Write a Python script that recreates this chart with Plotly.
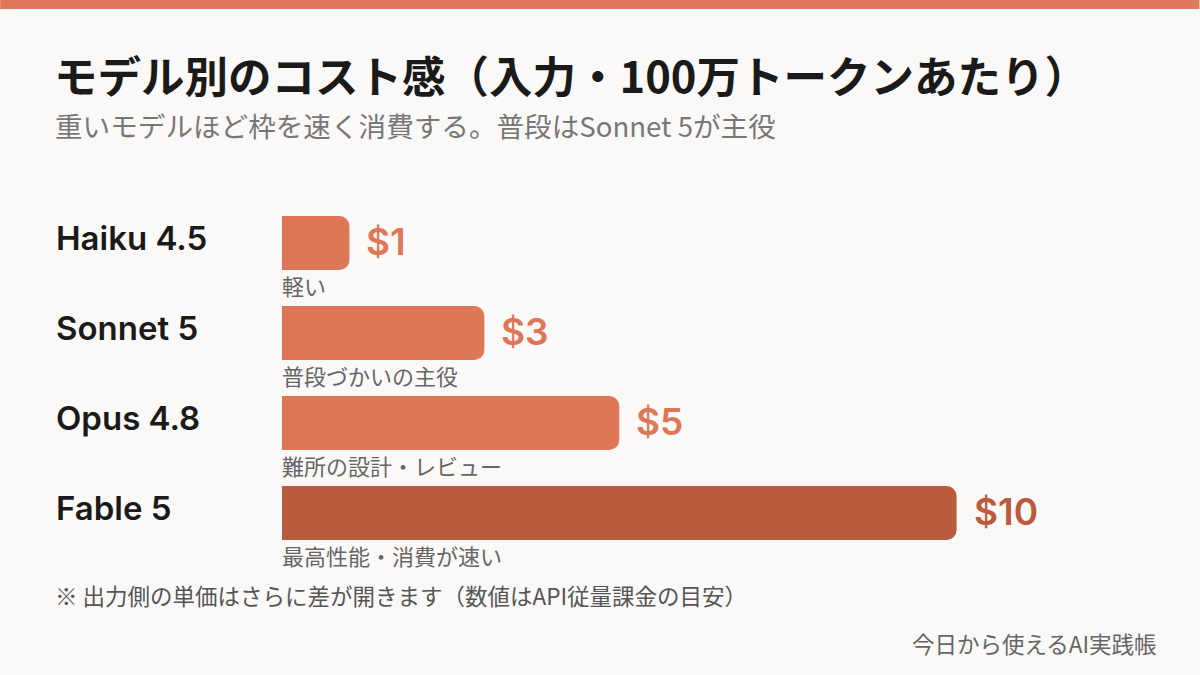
import plotly.graph_objects as go

# data
models = ['Haiku 4.5', 'Sonnet 5', 'Opus 4.8', 'Fable 5']
prices = [1, 3, 5, 10]
notes = ['軽い', '普段づかいの主役', '難所の設計・レビュー', '最高性能・消費が速い']
bar_colors = ['#DD7757', '#DD7757', '#DD7757', '#B95B3C']

title = 'モデル別のコスト感（入力・100万トークンあたり）'
subtitle = '重いモデルほど枠を速く消費する。普段はSonnet 5が主役'
footnote = '※ 出力側の単価はさらに差が開きます（数値はAPI従量課金の目安）'
credit = '今日から使えるAI実践帳'

FONT = 'Noto Sans CJK JP'
LATIN = 'Inter, Noto Sans CJK JP'

fig = go.Figure(go.Bar(
    x=prices, y=models, orientation='h',
    marker=dict(color=bar_colors, line=dict(width=0)),
    hoverinfo='skip',
))

W, H = 1200, 675
L, R, T, B = 282, 40.5, 198, 117
pw, ph = W - L - R, H - T - B

anns = []
for m, p, n, c in zip(models, prices, notes, bar_colors):
    # price label right of bar
    anns.append(dict(x=p, y=m, xref='x', yref='y', text=f'${p}',
                     xanchor='left', yanchor='middle', xshift=15, yshift=2, showarrow=False,
                     font=dict(family=LATIN, size=37, weight=600, color=c)))
    # model name on the left
    anns.append(dict(x=(54 - L) / pw, y=m, xref='paper', yref='y', text=m,
                     xanchor='left', yanchor='middle', yshift=5, showarrow=False,
                     font=dict(family=LATIN, size=33, weight=600, color='#1a1a1a')))
    # note under the bar
    anns.append(dict(x=0, y=m, xref='paper', yref='y', text=n,
                     xanchor='left', yanchor='middle', yshift=-42, xshift=-2, showarrow=False,
                     font=dict(family=FONT, size=22, color='#666666')))


def at(px, py, text, size, color, anchor='left'):
    # text placed by pixel position, converted to paper coordinates
    return dict(x=(px - L) / pw, y=1 - (py - T) / ph, xref='paper', yref='paper',
                text=text, xanchor=anchor, yanchor='middle', showarrow=False,
                font=dict(family=FONT, size=size, color=color))


anns += [
    at(52, 75, f'<b>{title}</b>', 43.5, '#1a1a1a'),
    at(53, 125, subtitle, 27.6, '#777777'),
    at(53, 595, footnote, 22.5, '#555555'),
    at(1160, 643, credit, 22.5, '#666666', 'right'),
]

fig.update_layout(
    width=W, height=H,
    margin=dict(l=L, r=R, t=T, b=B, autoexpand=False),
    paper_bgcolor='#FBF9F7', plot_bgcolor='#FBF9F7',
    bargap=0.4, barcornerradius=10,
    showlegend=False,
    xaxis=dict(range=[0, 13], visible=False, fixedrange=True),
    yaxis=dict(range=[len(models) - 0.5, -0.5], autorange=False, visible=False, fixedrange=True),
    annotations=anns,
    shapes=[dict(type='rect', xref='paper', yref='paper', x0=-L / pw, x1=1 + R / pw,
                 y0=1 + (T - 9) / ph, y1=1 + T / ph, fillcolor='#DE7A5B', line=dict(width=0))],
)

fig.write_html('out.html', config={'displayModeBar': False},
               post_script="document.body.style.margin='0';")
